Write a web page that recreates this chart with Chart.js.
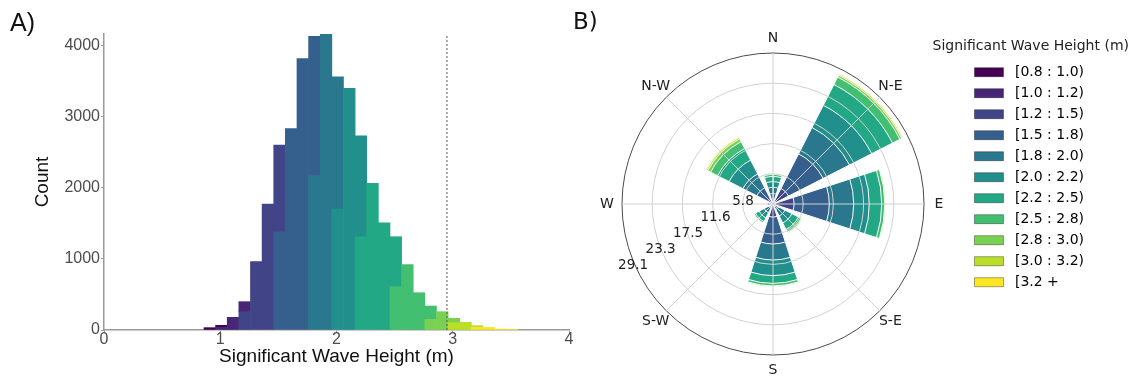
<!DOCTYPE html>
<html>
<head>
<meta charset="utf-8">
<script src="https://cdn.jsdelivr.net/npm/chart.js@4.4.1/dist/chart.umd.min.js"></script>
<style>
  html, body { margin: 0; padding: 0; background: #ffffff; }
  body { width: 1137px; height: 379px; position: relative; overflow: hidden; }
  canvas { position: absolute; top: 0; }
  #hist { left: 0; }
  #rose { left: 590px; }
  .panel { position: absolute; color: #111; white-space: nowrap; }
  #labA { left: 10px; top: 10px; font: 25px/25px "Liberation Sans", Arial, sans-serif; }
  #labB { left: 573px; top: 10px; font: 23px/23px "DejaVu Sans", sans-serif; }
</style>
</head>
<body>
<canvas id="hist" width="600" height="379"></canvas>
<canvas id="rose" width="547" height="379"></canvas>
<div class="panel" id="labA">A)</div>
<div class="panel" id="labB">B)</div>
<script>
// ---------- shared classes ----------
const waveClasses = ['[0.8 : 1.0)', '[1.0 : 1.2)', '[1.2 : 1.5)', '[1.5 : 1.8)', '[1.8 : 2.0)',
                     '[2.0 : 2.2)', '[2.2 : 2.5)', '[2.5 : 2.8)', '[2.8 : 3.0)', '[3.0 : 3.2)', '[3.2 +'];
const classColors = ['#440154', '#482576', '#414487', '#35608d', '#2a788e', '#21908c',
                     '#22a884', '#43bf71', '#7ad151', '#bbdf27', '#fde725'];
const legendTitle = 'Significant Wave Height (m)';

// ---------- histogram (panel A) ----------
const binCenters = [0.91, 1.01, 1.11, 1.21, 1.31, 1.41, 1.51, 1.61, 1.71, 1.81, 1.91, 2.01, 2.11, 2.21,
                    2.31, 2.41, 2.51, 2.61, 2.71, 2.81, 2.91, 3.01, 3.11, 3.21, 3.31, 3.41, 3.51];
//                    0.91 1.01 1.11 1.21 1.31 1.41  1.51  1.61  1.71  1.81  1.91  2.01  2.11  2.21  2.31  2.41  2.51 2.61 2.71 2.81 2.91 3.01 3.11 3.21 3.31 3.41 3.51
const hist_08_10 = [  33,  25,   0,   0,   0,    0,    0,    0,    0,    0,    0,    0,    0,    0,    0,    0,   0,   0,   0,   0,   0,   0,   0,   0,   0,   0,   0];
const hist_10_12 = [   0,  41, 178, 141,   0,    0,    0,    0,    0,    0,    0,    0,    0,    0,    0,    0,   0,   0,   0,   0,   0,   0,   0,   0,   0,   0,   0];
const hist_12_15 = [   0,   0,   0, 257, 960, 1770, 1217,    0,    0,    0,    0,    0,    0,    0,    0,    0,   0,   0,   0,   0,   0,   0,   0,   0,   0,   0,   0];
const hist_15_18 = [   0,   0,   0,   0,   0,    0, 1381, 2832, 3816, 1962,    0,    0,    0,    0,    0,    0,   0,   0,   0,   0,   0,   0,   0,   0,   0,   0,   0];
const hist_18_20 = [   0,   0,   0,   0,   0,    0,    0,    0,    0, 2167, 4157, 1859,    0,    0,    0,    0,   0,   0,   0,   0,   0,   0,   0,   0,   0,   0,   0];
const hist_20_22 = [   0,   0,   0,   0,   0,    0,    0,    0,    0,    0,    0, 1699, 3395, 1418,    0,    0,   0,   0,   0,   0,   0,   0,   0,   0,   0,   0,   0];
const hist_22_25 = [   0,   0,   0,   0,   0,    0,    0,    0,    0,    0,    0,    0,    0, 1311, 2060, 1507, 703,   0,   0,   0,   0,   0,   0,   0,   0,   0,   0];
const hist_25_28 = [   0,   0,   0,   0,   0,    0,    0,    0,    0,    0,    0,    0,    0,    0,    0,    0, 608, 918, 524, 187,   0,   0,   0,   0,   0,   0,   0];
const hist_28_30 = [   0,   0,   0,   0,   0,    0,    0,    0,    0,    0,    0,    0,    0,    0,    0,    0,   0,   0,   0, 150, 257,  61,   0,   0,   0,   0,   0];
const hist_30_32 = [   0,   0,   0,   0,   0,    0,    0,    0,    0,    0,    0,    0,    0,    0,    0,    0,   0,   0,   0,   0,   0, 103, 108,  25,   0,   0,   0];
const hist_32_up = [   0,   0,   0,   0,   0,    0,    0,    0,    0,    0,    0,    0,    0,    0,    0,    0,   0,   0,   0,   0,   0,   0,   0,  36,  37,  14,   5];
const histByClass = [hist_08_10, hist_10_12, hist_12_15, hist_15_18, hist_18_20, hist_20_22,
                     hist_22_25, hist_25_28, hist_28_30, hist_30_32, hist_32_up];
const countTicks = [0, 1000, 2000, 3000, 4000];
const hsTicks = [0, 1, 2, 3, 4];
const thresholdHs = 2.95;     // dotted reference line
const countMax = 4160;

const HFONT = '"Liberation Sans", Arial, sans-serif';

// higher classes first so they sit at the bottom of each stacked bin
const histDatasets = [];
for (let k = histByClass.length - 1; k >= 0; k--) {
  histDatasets.push({
    type: 'bar',
    label: waveClasses[k],
    data: binCenters.map((x, i) => ({ x: x, y: histByClass[k][i] || null })),
    backgroundColor: classColors[k],
    borderWidth: 0,
    barPercentage: 1,
    categoryPercentage: 1,
    order: 1
  });
}
histDatasets.push({
  type: 'line',
  label: 'threshold',
  data: [{ x: thresholdHs, y: 0 }, { x: thresholdHs, y: countMax }],
  borderColor: '#555555',
  borderWidth: 1,
  borderDash: [2, 2],
  pointRadius: 0,
  fill: false,
  stack: 'vline',
  order: 0
});

new Chart(document.getElementById('hist'), {
  type: 'bar',
  data: { datasets: histDatasets },
  options: {
    responsive: false,
    animation: false,
    events: [],
    layout: { padding: { left: 0, right: 31, top: 34, bottom: 0 } },
    plugins: { legend: { display: false }, tooltip: { enabled: false } },
    scales: {
      x: {
        type: 'linear', min: hsTicks[0], max: hsTicks[hsTicks.length - 1], offset: false, stacked: true,
        afterFit: (s) => { s.height = 49; },
        afterBuildTicks: (s) => { s.ticks = hsTicks.map(v => ({ value: v })); },
        ticks: { color: '#4d4d4d', font: { family: HFONT, size: 16, lineHeight: 1 }, padding: -1, maxRotation: 0,
                 callback: (v) => String(v) },
        grid: { display: true, drawOnChartArea: false, drawTicks: true, tickLength: 3, color: '#9a9a9a', offset: false },
        border: { display: true, color: '#9a9a9a', width: 1.5 },
        title: { display: true, text: 'Significant Wave Height (m)', color: '#111', font: { family: HFONT, size: 19 }, padding: { top: 0, bottom: 10.6 } }
      },
      y: {
        min: 0, max: countMax, stacked: true,
        afterFit: (s) => { s.width = 104; },
        afterBuildTicks: (s) => { s.ticks = countTicks.map(v => ({ value: v })); },
        ticks: { color: '#4d4d4d', font: { family: HFONT, size: 16 }, padding: 1, callback: (v) => String(v) },
        grid: { display: true, drawOnChartArea: false, drawTicks: true, tickLength: 3, color: '#9a9a9a' },
        border: { display: true, color: '#9a9a9a', width: 1.5 },
        title: { display: true, text: 'Count', color: '#111', font: { family: HFONT, size: 19 }, padding: { top: 31.6, bottom: 0 } }
      }
    }
  }
});

// ---------- wave rose (panel B) ----------
const roseDirections = ['N', 'N-E', 'E', 'S-E', 'S', 'S-W', 'W', 'N-W'];
// frequency (%) per class, directions in the order N, N-E, E, S-E, S, S-W, W, N-W
const rose_08_10 = [0.0, 0.10, 0.05, 0.0, 0.0,  0.0, 0.0, 0.0];
const rose_10_12 = [0.0, 0.35, 0.40, 0.0, 0.2,  0.0, 0.0, 0.1];
const rose_12_15 = [0.5, 2.90, 3.60, 0.2, 2.3,  0.0, 0.3, 0.9];
const rose_15_18 = [1.5, 7.50, 6.80, 1.0, 5.2,  0.8, 0.4, 2.5];
const rose_18_20 = [1.2, 5.70, 4.70, 1.4, 3.1,  1.1, 0.3, 3.0];
const rose_20_22 = [1.1, 4.80, 3.00, 1.5, 3.0,  1.1, 0.0, 3.0];
const rose_22_25 = [1.0, 4.50, 2.40, 1.4, 1.5,  0.8, 0.0, 2.5];
const rose_25_28 = [0.4, 1.60, 0.60, 0.6, 0.5,  0.3, 0.0, 1.5];
const rose_28_30 = [0.1, 0.40, 0.10, 0.2, 0.15, 0.0, 0.0, 0.6];
const rose_30_32 = [0.0, 0.25, 0.00, 0.0, 0.0,  0.0, 0.0, 0.3];
const rose_32_up = [0.0, 0.15, 0.00, 0.0, 0.0,  0.0, 0.0, 0.2];
const roseByClass = [rose_08_10, rose_10_12, rose_12_15, rose_15_18, rose_18_20, rose_20_22,
                     rose_22_25, rose_25_28, rose_28_30, rose_30_32, rose_32_up];
const radialMax = 29.1;
const radialRings = 6;          // 0, 5.8, 11.6, 17.5, 23.3, 29.1
const sectorOpening = 0.8;      // bar width as share of a 45 deg sector

const wedge = 45 * sectorOpening, gapAngle = 45 - wedge;
// arcs: half N wedge, then (gap, wedge) for N-E..N-W, then gap and the other half of N
const roseAngles = [wedge / 2];
for (let d = 1; d < 8; d++) roseAngles.push(gapAngle, wedge);
roseAngles.push(gapAngle, wedge / 2);
function toArcs(v) {
  const out = [v[0]];
  for (let d = 1; d < 8; d++) out.push(0, v[d]);
  out.push(0, v[0]);
  return out;
}
const roseDatasets = [];
const cum = [0, 0, 0, 0, 0, 0, 0, 0];
roseByClass.forEach((arr, k) => {
  arr.forEach((v, d) => { cum[d] += v; });
  roseDatasets.push({
    label: waveClasses[k],
    data: toArcs(cum.slice()),
    backgroundColor: classColors[k],
    borderColor: '#ffffff',
    borderWidth: 1,
    angle: (c) => roseAngles[c.dataIndex]
  });
});

const RFONT = '"DejaVu Sans", sans-serif';
const roseText = {
  id: 'roseText',
  afterDraw(chart) {
    const s = chart.scales.r;
    const ctx = chart.ctx;
    ctx.save();
    ctx.fillStyle = '#222';
    ctx.textAlign = 'center';
    ctx.textBaseline = 'middle';
    ctx.font = '14px ' + RFONT;
    const R = s.drawingArea + 15;
    roseDirections.forEach((d, i) => {
      const a = i * Math.PI / 4;
      ctx.fillText(d, s.xCenter + R * Math.sin(a), s.yCenter - R * Math.cos(a));
    });
    // legend title, centred over the legend entries
    const lg = chart.legend;
    ctx.fillText(legendTitle, lg.left + lg.width / 2, 46);
    ctx.font = '13.5px ' + RFONT;
    s.ticks.forEach((t, i) => {
      if (i === 0) return;
      const r = s.getDistanceFromCenterForValue(t.value);
      ctx.fillText(t.value.toFixed(1), s.xCenter - 2.5 - 0.91 * r, s.yCenter - 18.3 + 0.53 * r);
    });
    ctx.restore();
  }
};

new Chart(document.getElementById('rose'), {
  type: 'polarArea',
  data: { labels: roseDirections, datasets: roseDatasets },
  options: {
    responsive: false,
    animation: false,
    events: [],
    layout: { padding: { left: 0, right: 43, top: 58.2, bottom: 0 } },
    plugins: {
      tooltip: { enabled: false },
      legend: {
        display: true,
        position: 'right',
        align: 'start',
        title: { display: false },
        labels: {
          boxWidth: 29, boxHeight: 9, padding: 7, color: '#222',
          font: { family: RFONT, size: 14 },
          generateLabels: () => waveClasses.map((t, i) => ({
            text: ' ' + t, fillStyle: classColors[i], strokeStyle: 'rgba(0,0,0,0.45)',
            lineWidth: 0.8, hidden: false, datasetIndex: i
          }))
        }
      }
    },
    scales: {
      r: {
        min: 0, max: radialMax, startAngle: 0,
        ticks: { display: false, count: radialRings },
        grid: { z: 1, circular: true, lineWidth: 1,
                color: (c) => c.index === radialRings - 1 ? '#4a4a4a' : '#d2d2d2' },
        angleLines: { display: true, color: '#d2d2d2', lineWidth: 1 },
        pointLabels: { display: false },
        afterFit: (s) => { s.xCenter = 183; s.yCenter = 204; s.drawingArea = 151; }
      }
    }
  },
  plugins: [roseText]
});
</script>
</body>
</html>
